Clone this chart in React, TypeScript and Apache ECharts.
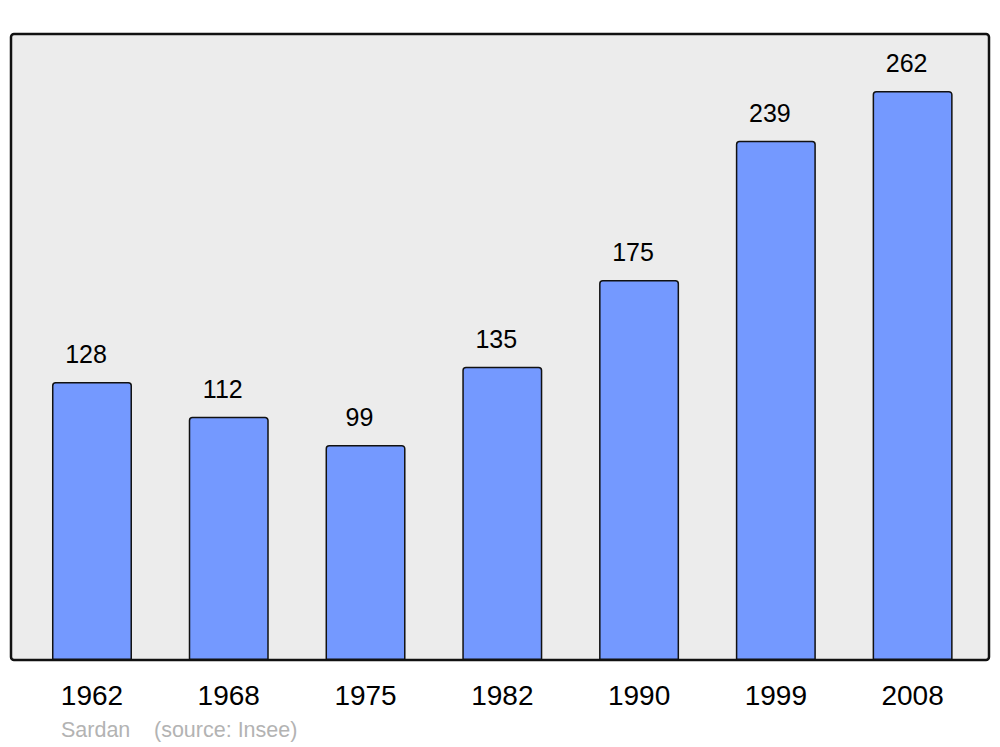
import React, { useEffect, useRef } from "react";
import * as echarts from "echarts";

const years = ["1962", "1968", "1975", "1982", "1990", "1999", "2008"];
const population = [128, 112, 99, 135, 175, 239, 262];
const placeName = "Sardan";
const sourceText = "(source: Insee)";

export default function App() {
  const ref = useRef<HTMLDivElement>(null);
  useEffect(() => {
    if (!ref.current) return;
    const chart = echarts.init(ref.current, null, { renderer: "svg" });
    const maxVal = Math.max(...population) * 1.1;
    chart.setOption({
      animation: false,
      backgroundColor: "#ffffff",
      textStyle: { fontFamily: "Liberation Sans, Arial, sans-serif" },
      graphic: [
        {
          type: "rect",
          z: -10,
          shape: { x: 11, y: 34, width: 978, height: 626, r: 3 },
          style: { fill: "#ececec", stroke: "#111111", lineWidth: 2.5 },
        },
        {
          type: "text",
          x: 61,
          y: 730,
          style: {
            text: placeName,
            fill: "#b3b3b3",
            fontSize: 21.5,
            fontFamily: "Liberation Sans, Arial, sans-serif",
            verticalAlign: "middle",
          },
        },
        {
          type: "text",
          x: 154,
          y: 730,
          style: {
            text: sourceText,
            fill: "#b3b3b3",
            fontSize: 21.5,
            fontFamily: "Liberation Sans, Arial, sans-serif",
            verticalAlign: "middle",
          },
        },
      ],
      grid: { left: 23.6, right: 19, top: 34, bottom: 87, containLabel: false },
      xAxis: {
        type: "category",
        data: years,
        axisLine: { show: false },
        axisTick: { show: false },
        axisLabel: {
          color: "#000000",
          fontSize: 28,
          margin: 21,
          fontFamily: "Liberation Sans, Arial, sans-serif",
        },
      },
      yAxis: {
        type: "value",
        min: 0,
        max: maxVal,
        show: false,
        splitLine: { show: false },
      },
      series: [
        {
          type: "bar",
          data: population,
          barWidth: 80,
          itemStyle: {
            color: "#7499ff",
            borderColor: "#111111",
            borderWidth: 1.5,
            borderRadius: [3, 3, 0, 0],
          },
          label: {
            show: true,
            position: "top",
            distance: 15,
            offset: [-6, 0],
            color: "#000000",
            fontSize: 25,
            fontFamily: "Liberation Sans, Arial, sans-serif",
          },
        },
      ],
    });
    return () => chart.dispose();
  }, []);
  return <div ref={ref} style={{ width: 1000, height: 747, position: "absolute", left: 0, top: 0 }} />;
}
